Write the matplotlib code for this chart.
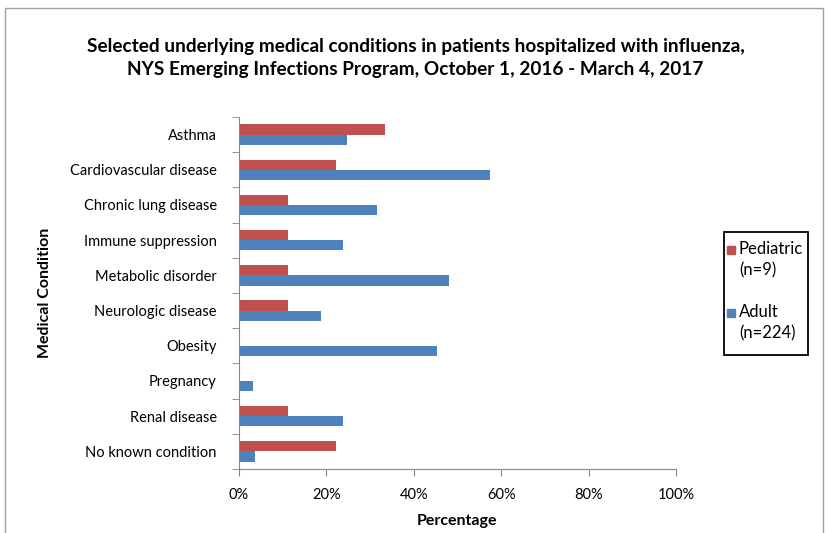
import matplotlib
matplotlib.use("Agg")
import matplotlib.pyplot as plt
from matplotlib.patches import Rectangle
import numpy as np

conditions = ["Asthma", "Cardiovascular disease", "Chronic lung disease",
              "Immune suppression", "Metabolic disorder", "Neurologic disease",
              "Obesity", "Pregnancy", "Renal disease", "No known condition"]
pediatric = [33.3, 22.2, 11.1, 11.1, 11.1, 11.1, 0, 0, 11.1, 22.2]
adult = [24.6, 57.4, 31.6, 23.7, 48.1, 18.7, 45.4, 3.2, 23.7, 3.6]
xticks = [0, 20, 40, 60, 80, 100]
legend_labels = ["Pediatric\n(n=9)", "Adult\n(n=224)"]
colors = ["#c0504d", "#4f81bd"]

plt.rcParams["font.family"] = ["Lato", "DejaVu Sans"]

W, H = 831, 533
fig = plt.figure(figsize=(W / 100, H / 100), dpi=100)
ax = fig.add_axes([239 / W, 1 - 469 / H, 437 / W, 352 / H])


def px(x, y):
    # pixel position (from top-left) -> figure fraction
    return x / W, 1 - y / H


# outer chart border
fig.patches.append(Rectangle((5 / W, -0.05), 818 / W, 1 - 8 / H + 0.05,
                             transform=fig.transFigure, fill=False,
                             edgecolor="#a0a0a0", lw=1))

y = np.arange(len(conditions))
h = 0.29
ax.barh(y - h / 2, pediatric, height=h, color=colors[0])
ax.barh(y + h / 2, adult, height=h, color=colors[1])

ax.set_ylim(len(conditions) - 0.5, -0.5)
ax.set_xlim(0, 100)
ax.set_yticks(y)
ax.set_yticklabels(conditions, fontsize=10.5)
ax.set_yticks(np.arange(-0.5, len(conditions)), minor=True)
ax.tick_params(axis="y", which="major", length=0, pad=16)
ax.tick_params(axis="y", which="minor", length=5, color="#868686")
ax.set_xticks(xticks)
ax.set_xticklabels([f"{v}%" for v in xticks], fontsize=10.5)
ax.tick_params(axis="x", length=5, color="#868686", pad=9)

for s in ["top", "right"]:
    ax.spines[s].set_visible(False)
for s in ["left", "bottom"]:
    ax.spines[s].set_color("#868686")

ax.set_xlabel("Percentage", fontsize=11.5, fontweight="bold", labelpad=8)
ax.set_ylabel("Medical Condition", fontsize=11.5, fontweight="bold")
ax.yaxis.set_label_coords(-(239 - 52) / 437, 0.5)

fig.text(0.5, 1 - 58 / H,
         "Selected underlying medical conditions in patients hospitalized with influenza,\n"
         "NYS Emerging Infections Program, October 1, 2016 - March 4, 2017",
         ha="center", va="center", fontsize=13.7, fontweight="bold", linespacing=1.45)

# legend drawn by hand so the swatch sits beside the first line of each label
fig.patches.append(Rectangle(px(724, 355), 84 / W, 123 / H, transform=fig.transFigure,
                             fill=False, edgecolor="black", lw=1.3))
for i, (lab, c) in enumerate(zip(legend_labels, colors)):
    top = 241 + i * 63
    fig.patches.append(Rectangle(px(727, top + 13), 8 / W, 8 / H,
                                 transform=fig.transFigure, color=c))
    x0, y0 = px(739, top)
    fig.text(x0, y0, lab, ha="left", va="top", fontsize=12, linespacing=1.4)

fig.savefig("out.png", dpi=100)
